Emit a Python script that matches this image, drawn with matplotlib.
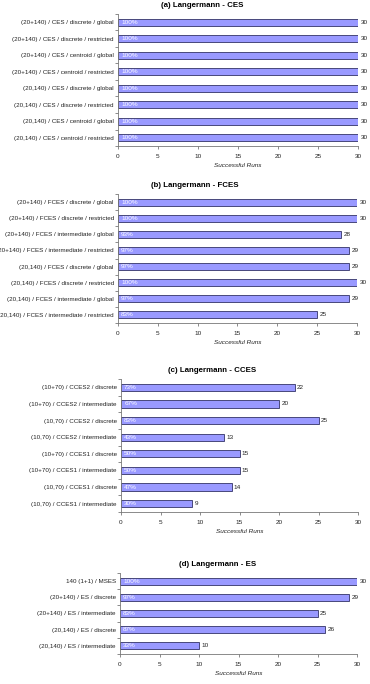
import numpy as np
import matplotlib
matplotlib.use('Agg')
import matplotlib.pyplot as plt

plt.rcParams['font.family'] = ['Liberation Sans', 'DejaVu Sans']

# dati dei quattro pannelli (dall'alto in basso)
titles = ['(a) Langermann - CES', '(b) Langermann - FCES',
          '(c) Langermann - CCES', '(d) Langermann - ES']

labels_a = ['(20+140) / CES / discrete / global', '(20+140) / CES / discrete / restricted',
            '(20+140) / CES / centroid / global', '(20+140) / CES / centroid / restricted',
            '(20,140) / CES / discrete / global', '(20,140) / CES / discrete / restricted',
            '(20,140) / CES / centroid / global', '(20,140) / CES / centroid / restricted']
runs_a = [30, 30, 30, 30, 30, 30, 30, 30]
pct_a = ['100%'] * 8

labels_b = ['(20+140) / FCES / discrete / global', '(20+140) / FCES / discrete / restricted',
            '(20+140) / FCES / intermediate / global', '(20+140) / FCES / intermediate / restricted',
            '(20,140) / FCES / discrete / global', '(20,140) / FCES / discrete / restricted',
            '(20,140) / FCES / intermediate / global', '(20,140) / FCES / intermediate / restricted']
runs_b = [30, 30, 28, 29, 29, 30, 29, 25]
pct_b = ['100%', '100%', '93%', '97%', '97%', '100%', '97%', '83%']

labels_c = ['(10+70) / CCES2 / discrete', '(10+70) / CCES2 / intermediate',
            '(10,70) / CCES2 / discrete', '(10,70) / CCES2 / intermediate',
            '(10+70) / CCES1 / discrete', '(10+70) / CCES1 / intermediate',
            '(10,70) / CCES1 / discrete', '(10,70) / CCES1 / intermediate']
runs_c = [22, 20, 25, 13, 15, 15, 14, 9]
pct_c = ['73%', '67%', '83%', '43%', '50%', '50%', '47%', '30%']

labels_d = ['140 (1+1) / MSES', '(20+140) / ES / discrete', '(20+140) / ES / intermediate',
            '(20,140) / ES / discrete', '(20,140) / ES / intermediate']
runs_d = [30, 29, 25, 26, 10]
pct_d = ['100%', '97%', '83%', '87%', '33%']

W, H = 370., 684.
# posizione assi in pixel: sinistra, destra, alto, basso, centro del titolo
boxes = [(118, 358, 14, 146, 202), (118, 357, 194, 323, 195),
         (121, 358, 379, 512, 212), (120, 357, 573, 654, 218)]
data = [(labels_a, runs_a, pct_a), (labels_b, runs_b, pct_b),
        (labels_c, runs_c, pct_c), (labels_d, runs_d, pct_d)]

fig = plt.figure(figsize=(W/100, H/100), dpi=100)
for (l, r, t, b, tc), title, (labels, runs, pct) in zip(boxes, titles, data):
    ax = fig.add_axes([l/W, 1 - b/H, (r - l)/W, (b - t)/H])
    n = len(labels)
    y = np.arange(n)[::-1]
    ax.barh(y, runs, height=0.43, color='#9999ff', edgecolor='#333366', linewidth=0.6)
    for yi, v, p in zip(y, runs, pct):
        ax.text(0.4, yi, p, color='white', fontsize=4.6, va='center', ha='left')
        ax.text(v + 0.3, yi, str(v), color='#222222', fontsize=4.6, va='center', ha='left')
    ax.set_xlim(0, 30)
    ax.set_ylim(-0.5, n - 0.5)
    ax.set_yticks(y)
    ax.set_yticklabels(labels, fontsize=4.5, color='#222222')
    ax.set_yticks(np.arange(n + 1) - 0.5, minor=True)
    ax.tick_params(axis='y', which='major', length=0, pad=3)
    ax.tick_params(axis='y', which='minor', length=2.5, color='#777777', width=0.6)
    ax.set_xticks(np.arange(0, 31, 5))
    ax.tick_params(axis='x', labelsize=4.6, length=2.5, color='#777777', width=0.6,
                   labelcolor='#222222', pad=3)
    ax.set_xlabel('Successful Runs', fontsize=4.6, style='italic', color='#222222', labelpad=3)
    ax.set_title(title, fontsize=5.7, fontweight='bold', pad=5, x=(tc - l)/(r - l))
    for s in ['top', 'right']:
        ax.spines[s].set_visible(False)
    for s in ['left', 'bottom']:
        ax.spines[s].set_color('#777777')
        ax.spines[s].set_linewidth(0.6)

plt.savefig('out.png', dpi=100)
